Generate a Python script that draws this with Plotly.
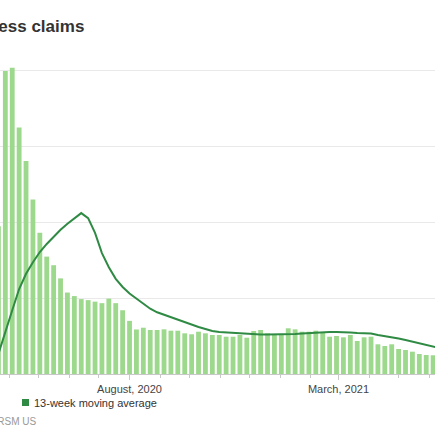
import pandas as pd
import plotly.graph_objects as go

# Weekly initial jobless claims (thousands), week ending Saturdays starting 2020-02-29
start_week = "2020-02-29"
claims = [220, 210, 250, 2920,
          5990, 6050, 4870, 4210, 3450, 2790, 2320, 2150, 1890, 1610, 1540, 1480, 1460, 1430, 1400, 1490, 1400, 1260, 1050, 880, 915,
          870, 870, 883, 856, 856, 804, 785, 836, 804, 771, 771, 737, 737, 771, 717, 850, 870, 804, 785, 785, 903,
          883, 836, 836, 856, 824, 737, 751, 725, 771, 652, 725, 737, 587, 553, 587, 494, 474, 441, 395, 375, 370, 410]
moving_avg = [220, 220, 225, 400,
              810, 1260, 1680, 1980, 2210, 2410, 2570, 2720, 2850, 2970, 3070, 3180, 3080, 2790, 2390, 2110, 1880, 1720, 1590, 1490, 1400,
              1290, 1220, 1170, 1120, 1070, 1020, 980, 930, 890, 850, 830, 820, 810, 800, 790, 780, 780, 780, 780, 780, 780,
              790, 800, 810, 820, 830, 830, 830, 830, 820, 810, 810, 800, 770, 750, 720, 700, 670, 640, 600, 570, 540, 510]
weeks = pd.date_range(start_week, periods=len(claims), freq="W-SAT")

title_text = "Initial jobless claims"
legend_text = "13-week moving average"
source_text = "Source: RSM US"

W, H = 435, 435
ml, mr, mt, mb = 0, 0, 60, 61
plot_h = H - mt - mb

def px_x(p):
    return p / (W - ml - mr)

def px_y(p):
    return (H - mb - p) / plot_h

fig = go.Figure()
fig.add_trace(go.Bar(x=weeks, y=claims, marker_color="#9dd98c", marker_line_width=0,
                     name="Initial claims", hoverinfo="skip"))
fig.add_trace(go.Scatter(x=weeks, y=moving_avg, mode="lines", name=legend_text,
                         line=dict(color="#2f8a44", width=2), hoverinfo="skip"))

fig.update_layout(
    template="none",
    width=W, height=H,
    margin=dict(l=ml, r=mr, t=mt, b=mb, pad=0),
    paper_bgcolor="white", plot_bgcolor="white",
    showlegend=False, bargap=0.3,
    font=dict(family="Liberation Sans, Arial, sans-serif", size=11, color="#444"),
    xaxis=dict(
        type="date", automargin=False,
        range=["2020-03-22 14:00", "2021-06-06 22:00"],
        tick0="2020-08-01", dtick="M7", tickformat="%B, %Y",
        ticks="outside", ticklen=5, tickcolor="#c8c8c8",
        showline=True, linecolor="#c8c8c8", linewidth=1,
        showgrid=False, tickfont=dict(size=11, color="#444"),
        minor=dict(dtick="M1", ticks="outside", ticklen=3, tickcolor="#c8c8c8", showgrid=False),
    ),
    yaxis=dict(
        automargin=False,
        range=[0, (H - mb - mt) / 50.6 * 1000],
        dtick=1500, showticklabels=False, showgrid=True,
        gridcolor="#e9e9e9", zeroline=False, showline=False,
    ),
)

fig.add_annotation(text="<b>" + title_text + "</b>", xref="paper", yref="paper",
                   x=px_x(86), y=px_y(26), xanchor="right", yanchor="middle",
                   showarrow=False, font=dict(size=17, color="#333"))
fig.add_shape(type="rect", xref="paper", yref="paper",
              x0=px_x(22), x1=px_x(29), y0=px_y(399), y1=px_y(406),
              fillcolor="#2f8a44", line_width=0)
fig.add_annotation(text=legend_text, xref="paper", yref="paper",
                   x=px_x(32), y=px_y(402.5), xanchor="left", yanchor="middle",
                   showarrow=False, font=dict(size=11, color="#333"))
fig.add_annotation(text=source_text, xref="paper", yref="paper",
                   x=px_x(38), y=px_y(421), xanchor="right", yanchor="middle",
                   showarrow=False, font=dict(size=10, color="#999"))

fig.write_html("out.html", config={"displayModeBar": False},
               post_script="document.body.style.margin='0';document.body.style.overflow='hidden';")
